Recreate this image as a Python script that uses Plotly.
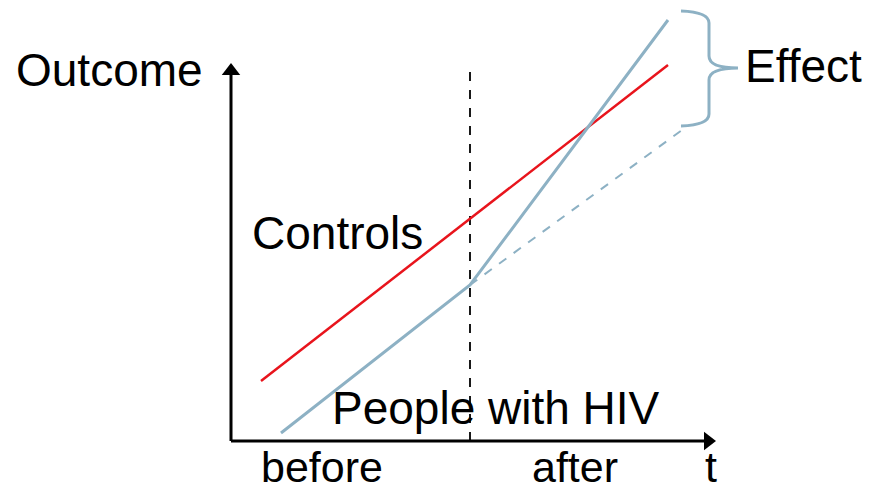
import plotly.graph_objects as go

# schematic values (arbitrary units, origin at the axes corner)
controls_t = [30, 437]
controls_y = [60, 376]

hiv_t = [50, 239, 437]
hiv_y = [8, 156, 421]

counterfactual_t = [239, 451]
counterfactual_y = [156, 311]

switch_t = 239
axis_t_end = 483
axis_y_end = 376

brace = {"left": 450, "spine": 478, "tip": 507, "top": 430, "mid": 373, "bottom": 315}

labels = ["Outcome", "Effect", "Controls", "People with HIV", "before", "after", "t"]
label_pos = [(-122, 371), (572, 375), (106, 208), (265, 33), (91, -26), (344, -26), (480, -26)]
label_size = [46, 46, 46, 46, 43, 43, 43]

RED = "#E8141C"
BLUE = "#8DB1C4"
FONT = "Liberation Sans"

fig = go.Figure()

# axes
fig.add_trace(go.Scatter(x=[0, 0], y=[0, axis_y_end - 8], mode="lines",
                         line=dict(color="black", width=3), hoverinfo="skip"))
fig.add_trace(go.Scatter(x=[0, axis_t_end - 8], y=[0, 0], mode="lines",
                         line=dict(color="black", width=3), hoverinfo="skip"))
fig.add_trace(go.Scatter(x=[0], y=[axis_y_end - 6], mode="markers",
                         marker=dict(symbol="triangle-up", size=16, color="black"),
                         hoverinfo="skip"))
fig.add_trace(go.Scatter(x=[axis_t_end - 6], y=[0], mode="markers",
                         marker=dict(symbol="triangle-right", size=16, color="black"),
                         hoverinfo="skip"))

# before / after divider
fig.add_trace(go.Scatter(x=[switch_t, switch_t], y=[0, 371], mode="lines",
                         line=dict(color="black", width=1.8, dash="dash"), hoverinfo="skip"))

# lines
fig.add_trace(go.Scatter(x=controls_t, y=controls_y, mode="lines",
                         line=dict(color=RED, width=2.5), hoverinfo="skip"))
fig.add_trace(go.Scatter(x=counterfactual_t, y=counterfactual_y, mode="lines",
                         line=dict(color=BLUE, width=2, dash="dash"), hoverinfo="skip"))
fig.add_trace(go.Scatter(x=hiv_t, y=hiv_y, mode="lines",
                         line=dict(color=BLUE, width=3), hoverinfo="skip"))

# curly brace for the effect
b = brace
path = (f"M {b['left']},{b['top']} Q {b['spine']},{b['top'] - 1} {b['spine']},{b['top'] - 12} "
        f"L {b['spine']},{b['mid'] + 12} Q {b['spine']},{b['mid']} {b['tip']},{b['mid']} "
        f"Q {b['spine']},{b['mid']} {b['spine']},{b['mid'] - 12} "
        f"L {b['spine']},{b['bottom'] + 12} Q {b['spine']},{b['bottom'] + 1} {b['left']},{b['bottom']}")
fig.add_shape(type="path", path=path, xref="x", yref="y",
              line=dict(color=BLUE, width=3))

for text, (tx, ty), size in zip(labels, label_pos, label_size):
    fig.add_annotation(x=tx, y=ty, text=text, showarrow=False,
                       xanchor="center", yanchor="middle", borderpad=0,
                       font=dict(family=FONT, size=size, color="black"))

# the page body adds an 8px margin, so the figure is 8px smaller than the window
fig.update_layout(
    width=866, height=487,
    margin=dict(l=0, r=0, t=0, b=0),
    plot_bgcolor="white", paper_bgcolor="white",
    showlegend=False,
    xaxis=dict(range=[-223, 643], visible=False, fixedrange=True),
    yaxis=dict(range=[-54, 433], visible=False, fixedrange=True),
)

fig.write_html("out.html")
